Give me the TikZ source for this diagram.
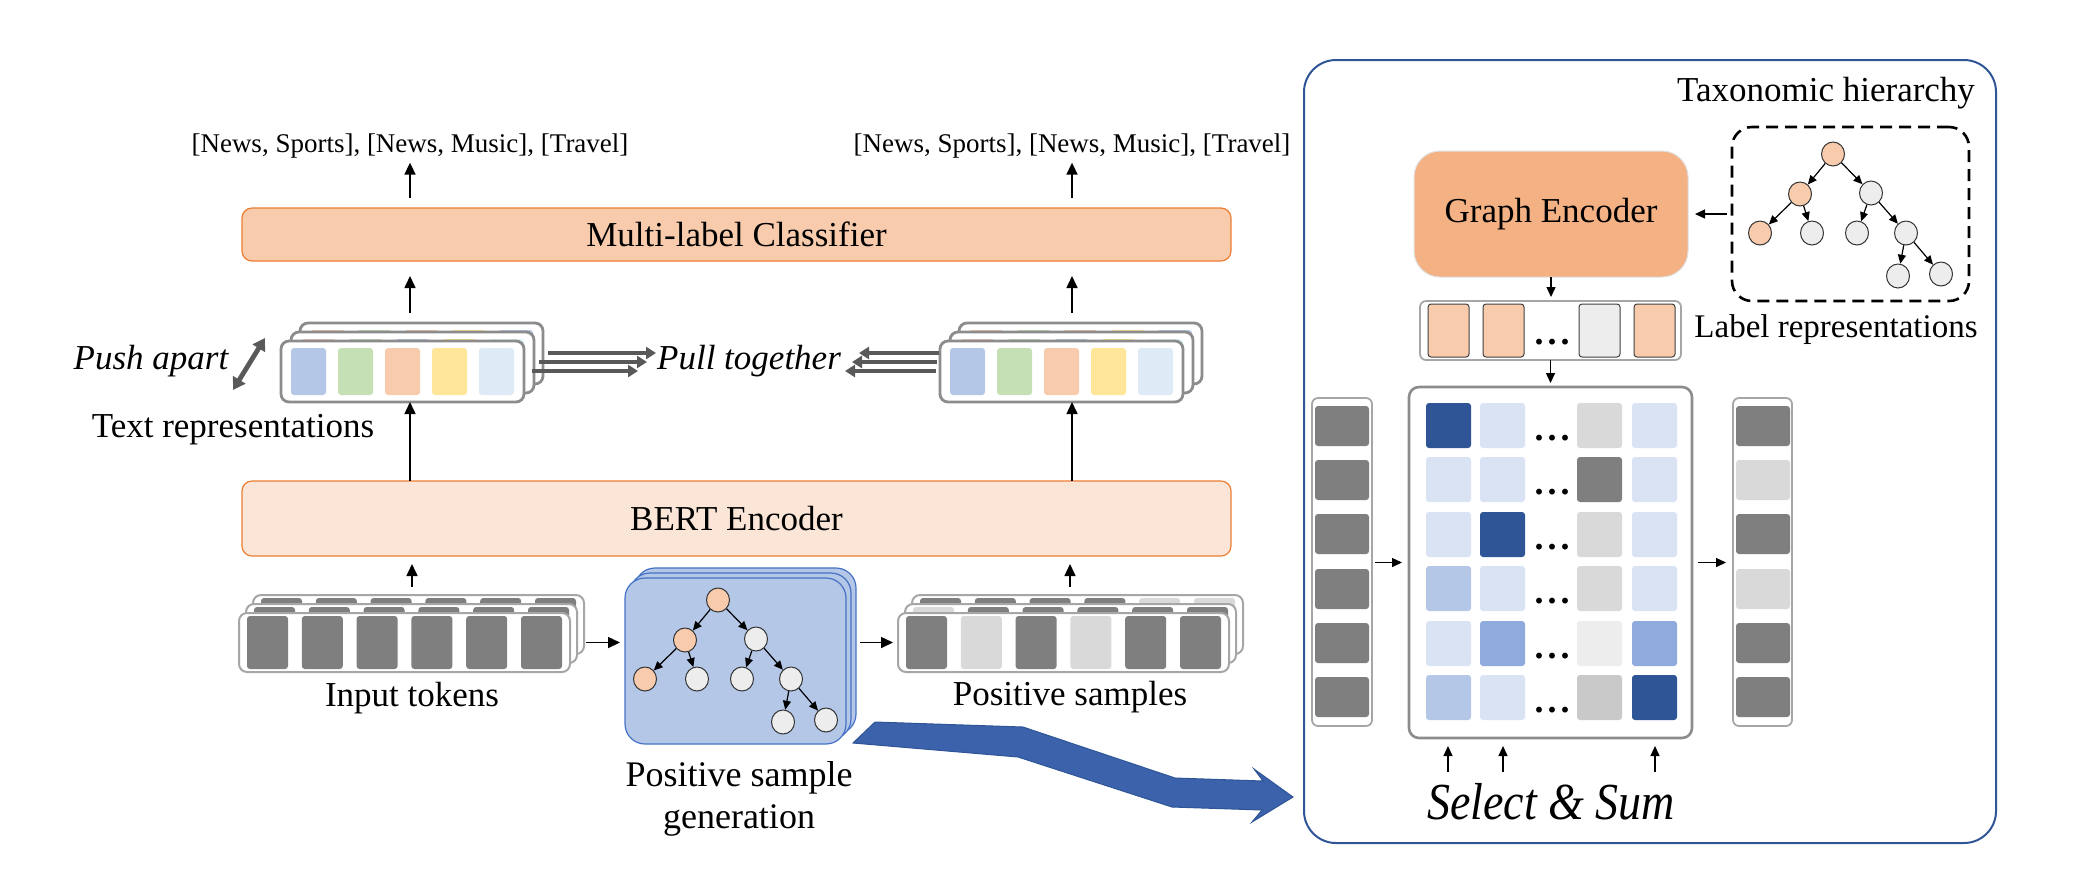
\documentclass[tikz,border=0pt]{standalone}
\usepackage{fontspec}
\setmainfont{Liberation Serif}
\usepackage{graphicx}
\usetikzlibrary{arrows.meta,calc,shapes.geometric}
\definecolor{borange}{HTML}{ED7D31}
\definecolor{clsfill}{HTML}{F8CBAD}
\definecolor{bertfill}{HTML}{FBE5D6}
\definecolor{cblue}{HTML}{B4C7E7}
\definecolor{cgreen}{HTML}{C5E0B4}
\definecolor{corange}{HTML}{F8CBAD}
\definecolor{cyellow}{HTML}{FFE699}
\definecolor{clblue}{HTML}{DEEBF7}
\definecolor{ccyan}{HTML}{DDF6F8}
\definecolor{dgray}{HTML}{7F7F7F}
\definecolor{lgray}{HTML}{D9D9D9}
\definecolor{mgray}{HTML}{C9C9C9}
\definecolor{vlgray}{HTML}{EDEDED}
\definecolor{framegray}{HTML}{8C8C8C}
\definecolor{tkgray}{HTML}{A6A6A6}
\definecolor{navy}{HTML}{2F5597}
\definecolor{genborder}{HTML}{4472C4}
\definecolor{mlight}{HTML}{DAE3F3}
\definecolor{mmed}{HTML}{B4C7E7}
\definecolor{mmed2}{HTML}{8FAADC}
\definecolor{gefill}{HTML}{F4B183}
\definecolor{bigarrow}{HTML}{3B62AA}
\definecolor{pgray}{HTML}{595959}
\tikzset{
  arr/.style={-{Triangle[length=6pt,width=5.5pt]}, line width=0.8pt, black},
  sarr/.style={-{Triangle[length=5pt,width=4.5pt]}, line width=0.7pt, black},
  tarr/.style={-{Triangle[length=4.5pt,width=4pt]}, line width=0.6pt, black},
  pullarr/.style={-{Triangle[length=5pt,width=6pt]}, line width=2.3pt, pgray},
  pusharr/.style={{Triangle[length=6pt,width=7pt]}-{Triangle[length=6pt,width=7pt]}, line width=2.4pt, pgray},
  txt/.style={font=\fontsize{17.5}{21}\selectfont, inner sep=0pt},
  itxt/.style={font=\fontsize{17.5}{21}\selectfont\itshape, inner sep=0pt},
  labtxt/.style={font=\fontsize{13.5}{16}\selectfont, inner sep=0pt},
  dotstyle/.style={font=\fontsize{18}{20}\selectfont\bfseries, inner sep=0pt},
  tnode/.style={ellipse, draw=black!80, line width=0.5pt, minimum width=11.5pt, minimum height=12pt, inner sep=0pt},
  onode/.style={tnode, fill=corange},
  gnode/.style={tnode, fill=vlgray},
  rc/.style={rounded corners=1.5pt},
  clsbox/.style={draw=borange, fill=clsfill, line width=0.6pt, rounded corners=5pt, font=\fontsize{17.5}{21}\selectfont},
  bertbox/.style={draw=borange, fill=bertfill, line width=0.6pt, rounded corners=5pt, font=\fontsize{17.5}{21}\selectfont},
  trframe/.style={draw=framegray, fill=white, line width=1.4pt, rounded corners=4pt},
  tkframe/.style={draw=tkgray, fill=white, line width=1pt, rounded corners=4pt},
  genbox/.style={draw=genborder, fill=cblue, line width=0.6pt, rounded corners=10pt},
  vecbox/.style={draw=tkgray, fill=white, line width=0.9pt, rounded corners=3pt},
  mxbox/.style={draw=framegray, fill=white, line width=1.3pt, rounded corners=5pt},
  rpbox/.style={draw=navy, line width=1pt, rounded corners=16pt},
  dashbox/.style={draw=black, line width=1.3pt, dash pattern=on 6pt off 3.5pt, rounded corners=10pt},
  gebox/.style={draw=black!12, fill=gefill, line width=0.5pt, rounded corners=13pt, font=\fontsize{17.5}{21}\selectfont},
}
% name, style, x1, y1, x2, y2, text  (pixel units)
\newcommand{\pxnode}[7]{\node[#2, minimum width={(#5-#3)*0.5pt}, minimum height={(#6-#4)*0.5pt}, inner sep=0pt, outer sep=0pt] (#1) at ({(#3+#5)/2},{(#4+#6)/2}) {#7};}
\newcommand{\trlayer}[4]{%
  \pxnode{#1}{trframe}{#2}{#3}{#2+243}{#3+61}{}
  \foreach \qq [count=\i from 0] in {#4} {\fill[\qq, rc] ({#2+10+47*\i},{#3+7}) rectangle ++(35,47);}
}
\newcommand{\tklayer}[4]{%
  \pxnode{#1}{tkframe}{#2}{#3}{#2+331}{#3+59}{}
  \foreach \qq [count=\i from 0] in {#4} {\fill[\qq, rc] ({#2+8+54.8*\i},{#3+3}) rectangle ++(41,53);}
}
\newcommand{\hiertree}[1]{%
  \node[onode] (#1a) at (718,600) {};
  \node[onode] (#1b) at (685,640) {};
  \node[gnode] (#1c) at (756,639) {};
  \node[onode] (#1d) at (645,679) {};
  \node[gnode] (#1e) at (697,679) {};
  \node[gnode] (#1f) at (742,679) {};
  \node[gnode] (#1g) at (791,679) {};
  \node[gnode] (#1h) at (783,722) {};
  \node[gnode] (#1i) at (826,720) {};
  \foreach \p/\q in {a/b,a/c,b/d,b/e,c/f,c/g,g/h,g/i} \draw[tarr] (#1\p) -- (#1\q);
}
\begin{document}
\begin{tikzpicture}[x=0.5pt,y=-0.5pt]
\useasboundingbox (0,0) rectangle (2076,880);

% ---------- left part ----------
\pxnode{cls}{clsbox}{242}{208}{1231}{261}{Multi-label Classifier}
\pxnode{bert}{bertbox}{242}{481}{1231}{556}{BERT Encoder}

\node[labtxt] (lab1) at (410,146) {[News, Sports], [News, Music], [Travel]};
\node[labtxt] (lab2) at (1072,146) {[News, Sports], [News, Music], [Travel]};

% text representation stacks
\trlayer{trLb}{300}{323}{corange,cgreen,corange,cyellow,cblue}
\trlayer{trLm}{291}{332}{corange,cgreen,cblue,cyellow,ccyan}
\trlayer{trLf}{281}{341}{cblue,cgreen,corange,cyellow,clblue}
\trlayer{trRb}{959}{323}{corange,cgreen,corange,cyellow,cblue}
\trlayer{trRm}{950}{332}{corange,cgreen,cblue,cyellow,ccyan}
\trlayer{trRf}{940}{341}{cblue,cgreen,corange,cyellow,clblue}

\node[itxt] (push) at (151,361) {Push apart};
\node[itxt] (pull) at (749,361) {Pull together};
\node[txt] (trtxt) at (233,430) {Text representations};

% input tokens
\tklayer{tkb}{253}{595}{dgray,dgray,dgray,dgray,dgray,dgray}
\tklayer{tkm}{246}{604}{dgray,dgray,dgray,dgray,dgray,dgray}
\tklayer{tkf}{239}{613}{dgray,dgray,dgray,dgray,dgray,dgray}
\node[txt] (intxt) at (412,698) {Input tokens};

% positive samples
\tklayer{psb}{912}{595}{dgray,dgray,dgray,dgray,lgray,lgray}
\tklayer{psm}{905}{604}{lgray,dgray,dgray,dgray,dgray,dgray}
\tklayer{psf}{898}{613}{dgray,lgray,dgray,lgray,dgray,dgray}
\node[txt] (pstxt) at (1070,697) {Positive samples};

% positive sample generation
\pxnode{genb}{genbox}{635}{568}{856}{734}{}
\pxnode{genm}{genbox}{630}{573}{851}{739}{}
\pxnode{genf}{genbox}{625}{578}{846}{744}{}
\hiertree{g}
\node[txt, font=\fontsize{18}{21}\selectfont, align=center] (gentxt) at (739,799) {Positive sample\\generation};

% arrows left part
\draw[arr, shorten <=5pt, shorten >=2pt] (lab1.center |- cls.north) -- (lab1.south);
\draw[arr, shorten <=5pt, shorten >=2pt] (lab2.center |- cls.north) -- (lab2.south);
\draw[arr, shorten <=5pt, shorten >=7.5pt] (lab1.center |- trLb.north) -- (lab1.center |- cls.south);
\draw[arr, shorten <=5pt, shorten >=7.5pt] (lab2.center |- trRb.north) -- (lab2.center |- cls.south);
\draw[arr] (lab1.center |- bert.north) -- (lab1.center |- trLf.south);
\draw[arr] (lab2.center |- bert.north) -- (lab2.center |- trRf.south);
\draw[arr, shorten <=4pt, shorten >=4pt] (intxt.center |- tkb.north) -- (intxt.center |- bert.south);
\draw[arr, shorten <=4pt, shorten >=4pt] (pstxt.center |- psb.north) -- (pstxt.center |- bert.south);
\draw[arr, shorten <=1pt, shorten >=2.5pt] (tkb.east |- tkf.east) -- (genf.west |- tkf.east);
\draw[arr, shorten <=2pt, shorten >=2.5pt] (genb.east |- psf.west) -- (psf.west);

\coordinate (pl1) at (656,353);
\coordinate (pl2) at (647,362);
\coordinate (pl3) at (638,371);
\coordinate (pr1) at (859,353);
\coordinate (pr2) at (852,362);
\coordinate (pr3) at (845,371);
\draw[pullarr, shorten <=2.5pt] (trLb.east |- pl1) -- (pl1);
\draw[pullarr, shorten <=2.5pt] (trLm.east |- pl2) -- (pl2);
\draw[pullarr, shorten <=4pt] (trLf.east |- pl3) -- (pl3);
\draw[pullarr, shorten <=0.5pt] (trRf.west |- pr1) -- (pr1);
\draw[pullarr, shorten <=1.5pt] (trRf.west |- pr2) -- (pr2);
\draw[pullarr, shorten <=2pt] (trRf.west |- pr3) -- (pr3);
\coordinate (pa1) at (233,390);
\coordinate (pa2) at (265,338);
\draw[pusharr] (pa1) -- (pa2);

% big blue arrow
\filldraw[fill=bigarrow, draw=navy, line width=0.5pt, line join=miter] (853,743) -- (875,722) -- (1023,727) -- (1175,778) -- (1263,781) -- (1254,769) -- (1293,797) -- (1252,822) -- (1262,810) -- (1172,807) -- (1018,757) -- cycle;

% ---------- right part ----------
\pxnode{rp}{rpbox}{1304}{60}{1996}{843}{}
\node[txt] (taxtxt) at (1826,93) {Taxonomic hierarchy};
\pxnode{dh}{dashbox}{1732}{127}{1969}{301}{}
\begin{scope}[shift={(1115,-446)}]
\hiertree{t}
\end{scope}
\pxnode{ge}{gebox}{1414}{151}{1688}{277}{Graph Encoder}
\draw[sarr, shorten <=2.5pt, shorten >=3.5pt] (dh.west |- ge.east) -- (ge.east);

\pxnode{lr}{vecbox}{1420}{301}{1681}{360}{}
\foreach \xx/\qa in {1428/corange,1483/corange,1579/vlgray,1634/corange}
  \draw[fill=\qa, draw=black!75, line width=0.5pt, rc] (\xx,304) rectangle ++(41,53);
\node[dotstyle] (lrdots) at (1552,342) {.\hspace{2pt}.\hspace{2pt}.};
\node[txt, font=\fontsize{16.5}{20}\selectfont] (lrtxt) at (1836,330) {Label representations};
\draw[sarr, shorten >=2pt] (ge.south) -- (ge.south |- lr.north);

\pxnode{mx}{mxbox}{1409}{387}{1692}{738}{}
\draw[sarr, shorten >=2pt] (lr.south) -- (lr.south |- mx.north);
\foreach \yy/\qa/\qb/\qc/\qd [count=\r] in {403/navy/mlight/lgray/mlight, 457/mlight/mlight/dgray/mlight, 512/mlight/navy/lgray/mlight, 566/mmed/mlight/lgray/mlight, 621/mlight/mmed2/vlgray/mmed2, 675/mmed/mlight/mgray/navy} {
  \fill[\qa, rc] (1426,\yy) rectangle ++(45,45);
  \fill[\qb, rc] (1480,\yy) rectangle ++(45,45);
  \fill[\qc, rc] (1577,\yy) rectangle ++(45,45);
  \fill[\qd, rc] (1632,\yy) rectangle ++(45,45);
  \node[dotstyle] (mdots\r) at (1552,\yy+35) {.\hspace{2pt}.\hspace{2pt}.};
}

\pxnode{lv}{vecbox}{1312}{398}{1372}{726}{}
\foreach \yy in {406,460,514,569,623,677}
  \fill[dgray, rc] (1315,\yy) rectangle ++(54,40);
\pxnode{rv}{vecbox}{1733}{398}{1792}{726}{}
\foreach \yy/\qa in {406/dgray,460/lgray,514/dgray,569/lgray,623/dgray,677/dgray}
  \fill[\qa, rc] (1736,\yy) rectangle ++(54,40);

\draw[sarr, shorten <=1.5pt, shorten >=3.5pt] (lv.east |- mx.west) -- (mx.west);
\draw[sarr, shorten <=3pt, shorten >=3.5pt] (mx.east) -- (rv.west |- mx.east);

\node[inner sep=0pt, font=\fontsize{26}{30}\selectfont\itshape] (ss) at (1551,802) {\scalebox{0.885}[1]{Select \& Sum}};
\coordinate (sa1) at (1448,772);
\coordinate (sa2) at (1503,772);
\coordinate (sa3) at (1655,772);
\draw[sarr, shorten >=4pt] (sa1) -- (sa1 |- mx.south);
\draw[sarr, shorten >=4pt] (sa2) -- (sa2 |- mx.south);
\draw[sarr, shorten >=4pt] (sa3) -- (sa3 |- mx.south);
\end{tikzpicture}
\end{document}
